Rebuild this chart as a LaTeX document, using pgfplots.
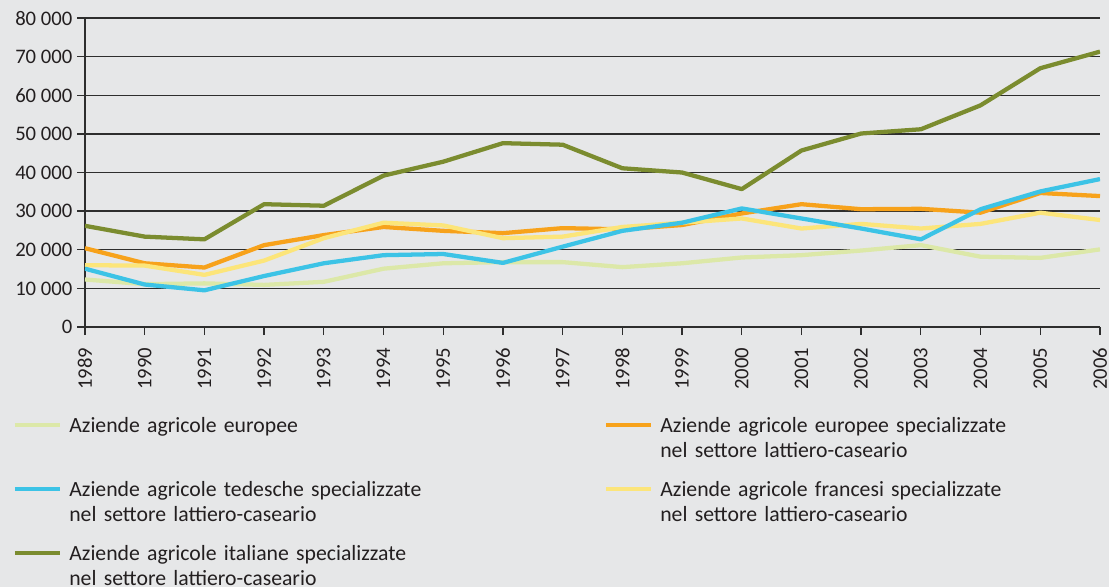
\documentclass[border=0pt]{standalone}
\usepackage{pgfplots}
\pgfplotsset{compat=1.18}
\usepackage{fontspec}
\setmainfont{Carlito}
\definecolor{bg}{HTML}{E6E7E8}
\definecolor{gridc}{HTML}{2E2E2E}
\definecolor{txt}{HTML}{231F20}
\definecolor{cEU}{HTML}{DCE8A8}
\definecolor{cEUD}{HTML}{F7A21B}
\definecolor{cDE}{HTML}{3CC3E6}
\definecolor{cFR}{HTML}{FCE57A}
\definecolor{cIT}{HTML}{7B8C2F}
\begin{document}
\begin{tikzpicture}
\path[use as bounding box, fill=bg] (-63.75pt,-195pt) rectangle (768pt,245.25pt);
\begin{axis}[
  scale only axis, width=761.25pt, height=231.75pt,
  at={(0,0)}, anchor=south west,
  xmin=1989, xmax=2006, ymin=0, ymax=80000,
  axis x line*=bottom, axis y line*=left,
  axis line style={draw=gridc, line width=1pt},
  every tick/.style={draw=gridc, line width=1pt},
  tick align=outside, major tick length=6pt,
  scaled y ticks=false,
  xtick={1989,...,2006},
  xticklabels={1989,1990,1991,1992,1993,1994,1995,1996,1997,1998,1999,2000,2001,2002,2003,2004,2005,2006},
  ytick={0,10000,...,80000},
  yticklabels={0,10 000,20 000,30 000,40 000,50 000,60 000,70 000,80 000},
  ymajorgrids, major grid style={draw=gridc, line width=1pt},
  tick label style={font=\fontsize{15.5}{18}\selectfont, text=txt},
  xticklabel style={rotate=90, anchor=east},
  xticklabel shift=6pt,
  legend columns=2,
  legend style={at={(0,0)}, anchor=north west, xshift=-54pt, yshift=-67.5pt,
    draw=none, fill=none, inner sep=0pt, outer sep=0pt,
    font=\fontsize{16.3}{18.75}\selectfont, text=txt,
    nodes={inner sep=0pt, text width=300pt, align=left},
    cells={anchor=base west}, row sep=35.2pt,
    /tikz/every odd column/.append style={column sep=5.5pt},
    /tikz/every even column/.append style={column sep=101pt}},
  legend image code/.code={\draw[#1] (0pt,5.3pt) -- (33.75pt,5.3pt);},
  every axis plot/.append style={line width=3.2pt, line join=round},
]
% draw order: EU, EU dairy, FR, DE, IT
\addplot[cEU, forget plot] coordinates {(1989,12300) (1990,11100) (1991,11300) (1992,10900) (1993,11700) (1994,15100) (1995,16500) (1996,16800) (1997,16800) (1998,15500) (1999,16500) (2000,18000) (2001,18600) (2002,19800) (2003,21200) (2004,18200) (2005,17900) (2006,20100)};
\addplot[cEUD, forget plot] coordinates {(1989,20400) (1990,16500) (1991,15400) (1992,21200) (1993,23800) (1994,25900) (1995,24900) (1996,24300) (1997,25600) (1998,25300) (1999,26400) (2000,29400) (2001,31800) (2002,30500) (2003,30600) (2004,29600) (2005,34700) (2006,33900)};
\addplot[cFR, forget plot] coordinates {(1989,16000) (1990,15900) (1991,13500) (1992,17200) (1993,23000) (1994,27000) (1995,26300) (1996,23000) (1997,23400) (1998,25900) (1999,27000) (2000,28100) (2001,25500) (2002,26700) (2003,25500) (2004,26700) (2005,29600) (2006,27700)};
\addplot[cDE, forget plot] coordinates {(1989,15100) (1990,11000) (1991,9500) (1992,13200) (1993,16500) (1994,18600) (1995,18900) (1996,16600) (1997,20800) (1998,24900) (1999,27000) (2000,30700) (2001,28100) (2002,25500) (2003,22700) (2004,30500) (2005,35100) (2006,38300)};
\addplot[cIT, forget plot] coordinates {(1989,26200) (1990,23400) (1991,22700) (1992,31800) (1993,31400) (1994,39200) (1995,42800) (1996,47600) (1997,47200) (1998,41100) (1999,40000) (2000,35700) (2001,45700) (2002,50100) (2003,51200) (2004,57400) (2005,67000) (2006,71300)};
\addlegendimage{cEU, line width=3pt}
\addlegendentry{Aziende agricole europee}
\addlegendimage{cEUD, line width=3pt}
\addlegendentry{Aziende agricole europee specializzate\\nel settore lattiero-caseario}
\addlegendimage{cDE, line width=3pt}
\addlegendentry{Aziende agricole tedesche specializzate\\nel settore lattiero-caseario}
\addlegendimage{cFR, line width=3pt}
\addlegendentry{Aziende agricole francesi specializzate\\nel settore lattiero-caseario}
\addlegendimage{cIT, line width=3pt}
\addlegendentry{Aziende agricole italiane specializzate\\nel settore lattiero-caseario}
\end{axis}
\end{tikzpicture}
\end{document}
